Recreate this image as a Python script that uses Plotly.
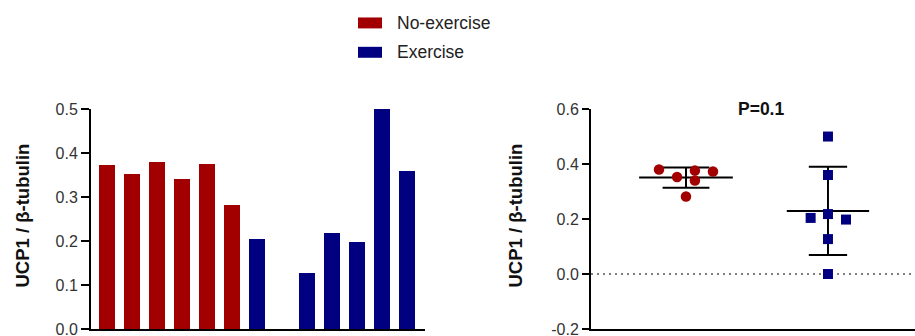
import plotly.graph_objects as go
import numpy as np

# UCP1 / beta-tubulin ratio per animal
noex_values = [0.373, 0.353, 0.380, 0.340, 0.376, 0.282]
ex_values = [0.204, 0.000, 0.127, 0.218, 0.198, 0.500, 0.360]
group_names = ["No-exercise", "Exercise"]

left_ticks = [0.0, 0.1, 0.2, 0.3, 0.4, 0.5]
left_ticktext = ["0.0", "0.1", "0.2", "0.3", "0.4", "0.5"]
right_ticks = [-0.2, 0.0, 0.2, 0.4, 0.6]
right_ticktext = ["-0.2", "0.0", "0.2", "0.4", "0.6"]
p_label = "P=0.1"
y_title = "UCP1 / β-tubulin"

# horizontal scatter offsets for the dot plot
noex_jitter = [0.19, -0.063, -0.19, 0.063, 0.063, 0.0]
ex_jitter = [-0.122, 0.0, 0.0, 0.0, 0.127, 0.0, 0.0]

RED = "#a20000"
BLUE = "#000080"
FONT = "Liberation Sans, Arial, sans-serif"

W, H = 915, 344
# vertical placement: screen y = Y0 + SY * figure y
Y0, SY = 8.5, 0.955


def px_x(p):
    """Screen x (pixels) -> paper fraction."""
    return min(1.0, p / W)


def px_y(p):
    """Screen y (pixels from top) -> paper fraction."""
    return max(0.0, 1 - ((p - Y0) / SY) / H)


fig = go.Figure()

# ---- left panel: individual bars ----
n_noex = len(noex_values)
fig.add_trace(go.Bar(
    x=list(range(n_noex)), y=noex_values, marker=dict(color=RED, line=dict(width=0)),
    width=0.64, xaxis="x", yaxis="y", showlegend=False, name=group_names[0]))
fig.add_trace(go.Bar(
    x=list(range(n_noex, n_noex + len(ex_values))), y=ex_values,
    marker=dict(color=BLUE, line=dict(width=0)),
    width=0.64, xaxis="x", yaxis="y", showlegend=False, name=group_names[1]))

# ---- right panel: dot plot with mean ± SD ----
mean_hw = [0.33, 0.29]
cap_hw = [0.165, 0.135]
for gi, vals in enumerate([noex_values, ex_values]):
    m = float(np.mean(vals))
    sd = float(np.std(vals, ddof=1))
    xs = [gi - mean_hw[gi], gi + mean_hw[gi], None,
          gi, gi, None,
          gi - cap_hw[gi], gi + cap_hw[gi], None,
          gi - cap_hw[gi], gi + cap_hw[gi]]
    ys = [m, m, None,
          m - sd, m + sd, None,
          m + sd, m + sd, None,
          m - sd, m - sd]
    fig.add_trace(go.Scatter(
        x=xs, y=ys, mode="lines", line=dict(color="black", width=2),
        xaxis="x2", yaxis="y2", showlegend=False, hoverinfo="skip"))

fig.add_trace(go.Scatter(
    x=[j for j in noex_jitter], y=noex_values, mode="markers",
    marker=dict(symbol="circle", size=10.5, color=RED),
    xaxis="x2", yaxis="y2", showlegend=False, name=group_names[0]))
fig.add_trace(go.Scatter(
    x=[1 + j for j in ex_jitter], y=ex_values, mode="markers",
    marker=dict(symbol="square", size=10, color=BLUE),
    xaxis="x2", yaxis="y2", showlegend=False, name=group_names[1]))

axis_common = dict(showline=True, linecolor="black", linewidth=2, showgrid=False,
                   zeroline=False, mirror=False)
ydomain = [px_y(331), px_y(110)]

fig.update_layout(
    width=W, height=H, margin=dict(l=0, r=0, t=0, b=0),
    plot_bgcolor="white", paper_bgcolor="white",
    font=dict(family=FONT, color="#333333"),
    bargap=0,
    xaxis=dict(domain=[px_x(91), px_x(425)], range=[-0.64, 12.72],
               showticklabels=False, ticks="", **axis_common),
    yaxis=dict(domain=ydomain, range=[0, 0.5], tickvals=left_ticks, ticktext=left_ticktext,
               ticks="outside", ticklen=8, tickwidth=2, tickcolor="black",
               ticklabeloverflow="allow",
               tickfont=dict(size=16, color="#333333"), **axis_common),
    xaxis2=dict(domain=[px_x(591), 1.0], range=[-0.669, 1.613],
                showticklabels=False, ticks="", anchor="y2", **axis_common),
    yaxis2=dict(domain=ydomain, range=[-0.2, 0.6], tickvals=right_ticks, ticktext=right_ticktext,
                ticks="outside", ticklen=7, tickwidth=2, tickcolor="black", anchor="x2",
                ticklabeloverflow="allow",
                tickfont=dict(size=16, color="#333333"), **axis_common),
)

# zero reference line in the dot plot
fig.add_shape(type="line", xref="x2 domain", yref="y2", x0=0, x1=1, y0=0, y1=0,
              line=dict(color="#555555", width=1.5, dash="2px,4px"), layer="below")

# legend
legend_rows = [(group_names[0], RED, 23.5), (group_names[1], BLUE, 53)]
for label, color, cy in legend_rows:
    fig.add_shape(type="rect", xref="paper", yref="paper",
                  x0=px_x(358), x1=px_x(382), y0=px_y(cy + 5.5), y1=px_y(cy - 5.5),
                  fillcolor=color, line=dict(width=0))
    fig.add_annotation(x=px_x(395), y=px_y(cy), xref="paper", yref="paper",
                       text=label, showarrow=False, xanchor="left", yanchor="middle",
                       font=dict(size=17.5, color="#222222", family=FONT))

# axis titles
for cx in (23, 516):
    fig.add_annotation(x=px_x(cx), y=px_y(217), xref="paper", yref="paper",
                       text="<b>" + y_title + "</b>", textangle=-90, showarrow=False,
                       xanchor="center", yanchor="middle",
                       font=dict(size=18.5, color="#111111", family=FONT))

fig.add_annotation(x=px_x(761), y=px_y(110), xref="paper", yref="paper",
                   text="<b>" + p_label + "</b>", showarrow=False,
                   xanchor="center", yanchor="middle",
                   font=dict(size=17.5, color="#111111", family=FONT))

fig.write_html("out.html")
